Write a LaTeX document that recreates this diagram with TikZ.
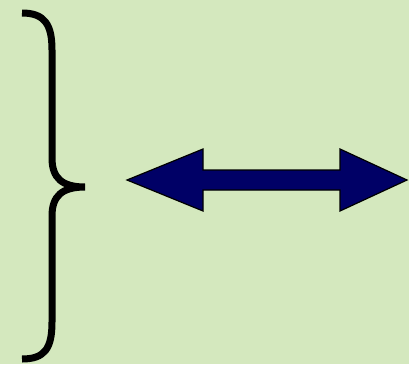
\documentclass[tikz,border=0pt]{standalone}
\usetikzlibrary{positioning}
\definecolor{paper}{RGB}{212,232,190}
\definecolor{navy}{RGB}{0,0,102}
\begin{document}
\begin{tikzpicture}[x=1pt,y=-1pt,
    brace/.style={line width=7pt, black},
    block/.style={fill=navy, draw=black, line width=1.2pt, line join=miter}]
        \fill[paper] (0,0) rectangle (409,364);
        \useasboundingbox (0,0) rectangle (409,364);
        % the brace
        \draw[brace] (22,13) .. controls (45,13) and (52,25) .. (52,50)
            -- (52,158) .. controls (52,178) and (62,187) .. (85,187)
            .. controls (62,187) and (52,196) .. (52,216)
            -- (52,322) .. controls (52,348) and (45,359) .. (22,359);
        % the double arrow
        \draw[block] (127,180) -- (203,149) -- (203,170) -- (340,170) -- (340,149)
            -- (407,180) -- (340,211) -- (340,190) -- (203,190) -- (203,211) -- cycle;
    \end{tikzpicture}
\end{document}
